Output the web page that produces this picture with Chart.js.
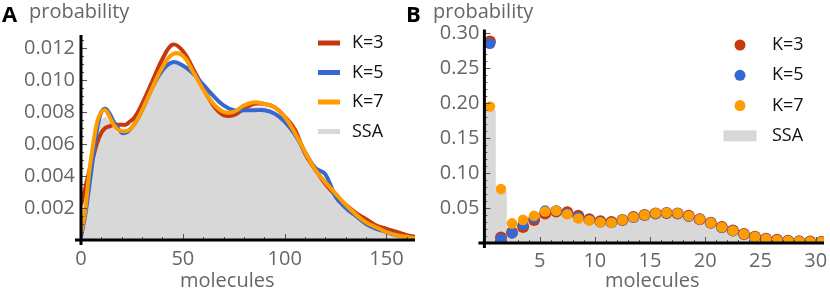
<!DOCTYPE html>
<html>
<head>
<meta charset="utf-8">
<script src="https://cdn.jsdelivr.net/npm/chart.js@4.4.1/dist/chart.umd.min.js"></script>
<style>
  body { margin: 0; background: #fff; font-family: 'Open Sans', sans-serif; }
  #wrap { position: relative; width: 830px; height: 291px; overflow: hidden; }
  .box { position: absolute; top: 0; width: 415px; height: 291px; }
  #boxA { left: 0; }
  #boxB { left: 415px; }
  .lbl { position: absolute; white-space: nowrap; line-height: 1; }
  .panel { font-weight: bold; font-size: 22px; color: #000; }
  .ttl { font-size: 20px; color: #666; }
</style>
</head>
<body>
<div id="wrap">
  <div class="box" id="boxA"><canvas id="chartA" width="415" height="291"></canvas></div>
  <div class="box" id="boxB"><canvas id="chartB" width="415" height="291"></canvas></div>
  <div class="lbl panel" style="left:2px;top:2px">A</div>
  <div class="lbl ttl" style="left:29px;top:1px">probability</div>
  <div class="lbl ttl" style="left:180px;top:270px">molecules</div>
  <div class="lbl panel" style="left:406px;top:2px">B</div>
  <div class="lbl ttl" style="left:433px;top:1px">probability</div>
  <div class="lbl ttl" style="left:605px;top:270px">molecules</div>
</div>
<script>
/* ---- DATA: panel A (smoothed distributions) ---- */
const molA = [0, 2, 4, 6, 8, 10, 12, 14, 16, 18, 20, 22, 24, 26, 28, 30, 35, 40, 45, 50, 55, 60, 65, 70, 75, 80,
  85, 90, 95, 100, 105, 110, 115, 120, 125, 130, 135, 140, 145, 150, 155, 160, 164]
const k3A = [0.0022, 0.0032, 0.0043, 0.0052, 0.0061, 0.0067, 0.0070, 0.0071, 0.0072, 0.0072, 0.0072, 0.0072, 0.0074,
  0.0076, 0.0080, 0.0085, 0.0099, 0.0113, 0.0122, 0.0118, 0.0107, 0.0095, 0.0084, 0.0078, 0.0078, 0.0082,
  0.0085, 0.0085, 0.0083, 0.0077, 0.0069, 0.0054, 0.0044, 0.0035, 0.0028, 0.0022, 0.0017, 0.0013, 0.0009,
  0.0007, 0.0005, 0.0003, 0.0002]
const k5A = [0.0002, 0.0015, 0.0033, 0.0052, 0.0070, 0.0080, 0.0082, 0.0079, 0.0074, 0.0070, 0.0067, 0.0067, 0.0069,
  0.0072, 0.0076, 0.0081, 0.0095, 0.0106, 0.0111, 0.0109, 0.0104, 0.0097, 0.0090, 0.0084, 0.0081, 0.0081,
  0.0081, 0.0081, 0.0079, 0.0074, 0.0066, 0.0055, 0.0045, 0.0041, 0.0027, 0.0020, 0.0015, 0.0010, 0.0007,
  0.0005, 0.0003, 0.0002, 0.0001]
const k7A = [0.0004, 0.0018, 0.0042, 0.0060, 0.0074, 0.0080, 0.0081, 0.0077, 0.0072, 0.0069, 0.0068, 0.0068, 0.0069,
  0.0072, 0.0076, 0.0081, 0.0095, 0.0108, 0.0116, 0.0115, 0.0105, 0.0094, 0.0085, 0.0080, 0.0080, 0.0084,
  0.0086, 0.0085, 0.0083, 0.0077, 0.0067, 0.0055, 0.0044, 0.0036, 0.0029, 0.0022, 0.0016, 0.0011, 0.0008,
  0.0005, 0.0003, 0.0002, 0.0001]
const ssaA = [0.0003, 0.0016, 0.0036, 0.0054, 0.0068, 0.0075, 0.0077, 0.0074, 0.0070, 0.0067, 0.0066, 0.0066, 0.0068,
  0.0071, 0.0075, 0.0079, 0.0093, 0.0105, 0.0110, 0.0109, 0.0102, 0.0094, 0.0085, 0.0080, 0.0079, 0.0081,
  0.0083, 0.0083, 0.0080, 0.0074, 0.0065, 0.0054, 0.0044, 0.0035, 0.0027, 0.0021, 0.0015, 0.0011, 0.0008,
  0.0005, 0.0003, 0.0002, 0.0001]
const xTicksA = [0, 50, 100, 150]
const yTicksA = [0.002, 0.004, 0.006, 0.008, 0.010, 0.012]

/* ---- DATA: panel B (low copy numbers) ---- */
const molB = [0, 1, 2, 3, 4, 5, 6, 7, 8, 9, 10, 11, 12, 13, 14, 15, 16, 17, 18, 19, 20, 21, 22, 23, 24, 25, 26, 27, 28, 29, 30]
const k3B = [0.288, 0.008, 0.015, 0.023, 0.033, 0.042, 0.045, 0.044, 0.039, 0.034, 0.031, 0.030, 0.033, 0.037, 0.040,
  0.042, 0.043, 0.042, 0.039, 0.034, 0.029, 0.023, 0.018, 0.013, 0.009, 0.006, 0.0045, 0.0033, 0.0025, 0.0020, 0.0015]
const k5B = [0.285, 0.006, 0.014, 0.026, 0.036, 0.046, 0.046, 0.042, 0.037, 0.033, 0.030, 0.029, 0.033, 0.0365, 0.040,
  0.042, 0.043, 0.042, 0.038, 0.034, 0.029, 0.022, 0.0175, 0.013, 0.009, 0.006, 0.0043, 0.0033, 0.0024, 0.0019, 0.0015]
const k7B = [0.195, 0.077, 0.028, 0.033, 0.039, 0.045, 0.046, 0.041, 0.035, 0.032, 0.0295, 0.029, 0.033, 0.0367, 0.040,
  0.0424, 0.0433, 0.0424, 0.0386, 0.0338, 0.029, 0.0224, 0.0176, 0.0129, 0.009, 0.006, 0.0043, 0.0033, 0.0024, 0.0019, 0.0015]
const ssaB = [0.189, 0.073, 0.020, 0.029, 0.035, 0.040, 0.042, 0.040, 0.035, 0.031, 0.029, 0.028, 0.031, 0.035, 0.038,
  0.040, 0.041, 0.040, 0.037, 0.032, 0.027, 0.022, 0.017, 0.012, 0.009, 0.006, 0.004, 0.003, 0.002, 0.0015, 0.001]
const xTicksB = [5, 10, 15, 20, 25, 30]
const yTicksB = [0.05, 0.10, 0.15, 0.20, 0.25, 0.30]

const RED = '#c8380c', BLUE = '#3568d2', ORANGE = '#ff9c00', GRAY = '#d8d8d8'
const FONT = "'Open Sans', sans-serif"

/* axis lines + small inward ticks, Mathematica style */
const frameAxes = {
  id: 'frameAxes',
  afterDraw(chart, args, o) {
    const {ctx, chartArea: a, scales: {x, y}} = chart
    ctx.save()
    ctx.strokeStyle = '#555'
    ctx.lineWidth = 1
    for (let i = 0; i * o.xMinor <= x.max + 1e-9; i++) {
      const px = Math.round(x.getPixelForValue(i * o.xMinor)) + 0.5
      const len = i % o.xEvery === 0 ? 6 : 3
      ctx.beginPath(); ctx.moveTo(px, a.bottom); ctx.lineTo(px, a.bottom - len); ctx.stroke()
    }
    for (let i = 1; i * o.yMinor <= y.max + 1e-9; i++) {
      const py = Math.round(y.getPixelForValue(i * o.yMinor)) + 0.5
      const len = i % o.yEvery === 0 ? 6 : 3
      ctx.beginPath(); ctx.moveTo(a.left, py); ctx.lineTo(a.left + len, py); ctx.stroke()
    }
    ctx.strokeStyle = '#000'
    ctx.lineWidth = 3
    ctx.beginPath(); ctx.moveTo(a.left - 6, a.bottom); ctx.lineTo(a.right, a.bottom); ctx.stroke()
    ctx.beginPath(); ctx.moveTo(a.left, a.top); ctx.lineTo(a.left, a.bottom + 5); ctx.stroke()
    ctx.restore()
  }
}

/* legend drawn inside the plot, top right */
const insideLegend = {
  id: 'insideLegend',
  afterDraw(chart, args, o) {
    const ctx = chart.ctx
    ctx.save()
    ctx.font = '18px ' + FONT
    ctx.textBaseline = 'middle'
    chart.data.datasets.forEach((ds, i) => {
      const y = o.y + i * o.gap
      ctx.fillStyle = ds.backgroundColor
      if (o.marker === 'line') {
        ctx.fillRect(o.mx - 11, y - 2.5, 22, 5)
      } else if (ds.label === 'SSA') {
        ctx.fillRect(o.mx - 16.5, y - 5.5, 33, 11)
      } else {
        ctx.beginPath(); ctx.arc(o.mx, y, 5.5, 0, Math.PI * 2); ctx.fill()
      }
      ctx.fillStyle = '#111'
      ctx.fillText(ds.label, o.tx, y)
    })
    ctx.restore()
  }
}

const pts = (xs, ys, dx) => xs.map((v, i) => ({x: v + dx, y: ys[i]}))

function scaleOpts(min, max, ticks, fmt, fit, pad) {
  return {
    type: 'linear', min: min, max: max, offset: false,
    grid: {display: false, drawTicks: false},
    border: {display: false},
    afterBuildTicks: s => { s.ticks = ticks.map(v => ({value: v})) },
    afterFit: s => { fit(s); s.paddingLeft = 0; s.paddingRight = 0; s.paddingTop = 0; s.paddingBottom = 0 },
    ticks: {color: '#666', font: {family: FONT, size: 20}, padding: pad, callback: fmt}
  }
}

/* ---- panel A ---- */
const lineA = (label, ys, color, order) => ({
  label: label, data: pts(molA, ys, 0), borderColor: color, backgroundColor: color,
  borderWidth: 4, pointRadius: 0, tension: 0.4, order: order
})

new Chart(document.getElementById('chartA'), {
  type: 'line',
  data: {
    datasets: [
      lineA('K=3', k3A, RED, 3),
      lineA('K=5', k5A, BLUE, 2),
      lineA('K=7', k7A, ORANGE, 1),
      {label: 'SSA', data: pts(molA, ssaA, 0), backgroundColor: GRAY, borderColor: GRAY, borderWidth: 0,
        pointRadius: 0, fill: 'origin', tension: 0.3, order: 4}
    ]
  },
  options: {
    responsive: false, animation: false, devicePixelRatio: 1,
    layout: {padding: {top: 35, right: 0, left: 0, bottom: 0}},
    plugins: {
      legend: {display: false}, tooltip: {enabled: false},
      insideLegend: {marker: 'line', mx: 329, tx: 352, y: 43, gap: 29.5},
      frameAxes: {xMinor: 10, xEvery: 5, yMinor: 0.0005, yEvery: 4}
    },
    scales: {
      x: scaleOpts(0, 164, xTicksA, v => String(v), s => { s.height = 51 }, 7),
      y: scaleOpts(0, 0.0128, yTicksA, v => v.toFixed(3), s => { s.width = 81 }, 6)
    }
  },
  plugins: [frameAxes, insideLegend]
})

/* ---- panel B ---- */
const dotB = (label, ys, color, r, order) => ({
  type: 'scatter', label: label, data: pts(molB, ys, 0.5), backgroundColor: color,
  borderWidth: 0, pointRadius: r, order: order
})

new Chart(document.getElementById('chartB'), {
  type: 'scatter',
  data: {
    datasets: [
      dotB('K=3', k3B, RED, 6, 3),
      dotB('K=5', k5B, BLUE, 5.5, 2),
      dotB('K=7', k7B, ORANGE, 5.3, 1),
      {type: 'bar', label: 'SSA', data: pts(molB, ssaB, 0.5), backgroundColor: GRAY,
        barPercentage: 1, categoryPercentage: 1, borderWidth: 0, order: 4}
    ]
  },
  options: {
    responsive: false, animation: false, devicePixelRatio: 1,
    layout: {padding: {top: 29.5, right: 4.3, left: 0, bottom: 0}},
    plugins: {
      legend: {display: false}, tooltip: {enabled: false},
      insideLegend: {marker: 'dot', mx: 325, tx: 357, y: 45, gap: 30.3},
      frameAxes: {xMinor: 1, xEvery: 5, yMinor: 0.01, yEvery: 5}
    },
    scales: {
      x: scaleOpts(0, 30.75, xTicksB, v => String(v), s => { s.height = 48 }, 6),
      y: scaleOpts(0, 0.305, yTicksB, v => v.toFixed(2), s => { s.width = 69.4 }, 5)
    }
  },
  plugins: [frameAxes, insideLegend]
})
</script>
</body>
</html>
